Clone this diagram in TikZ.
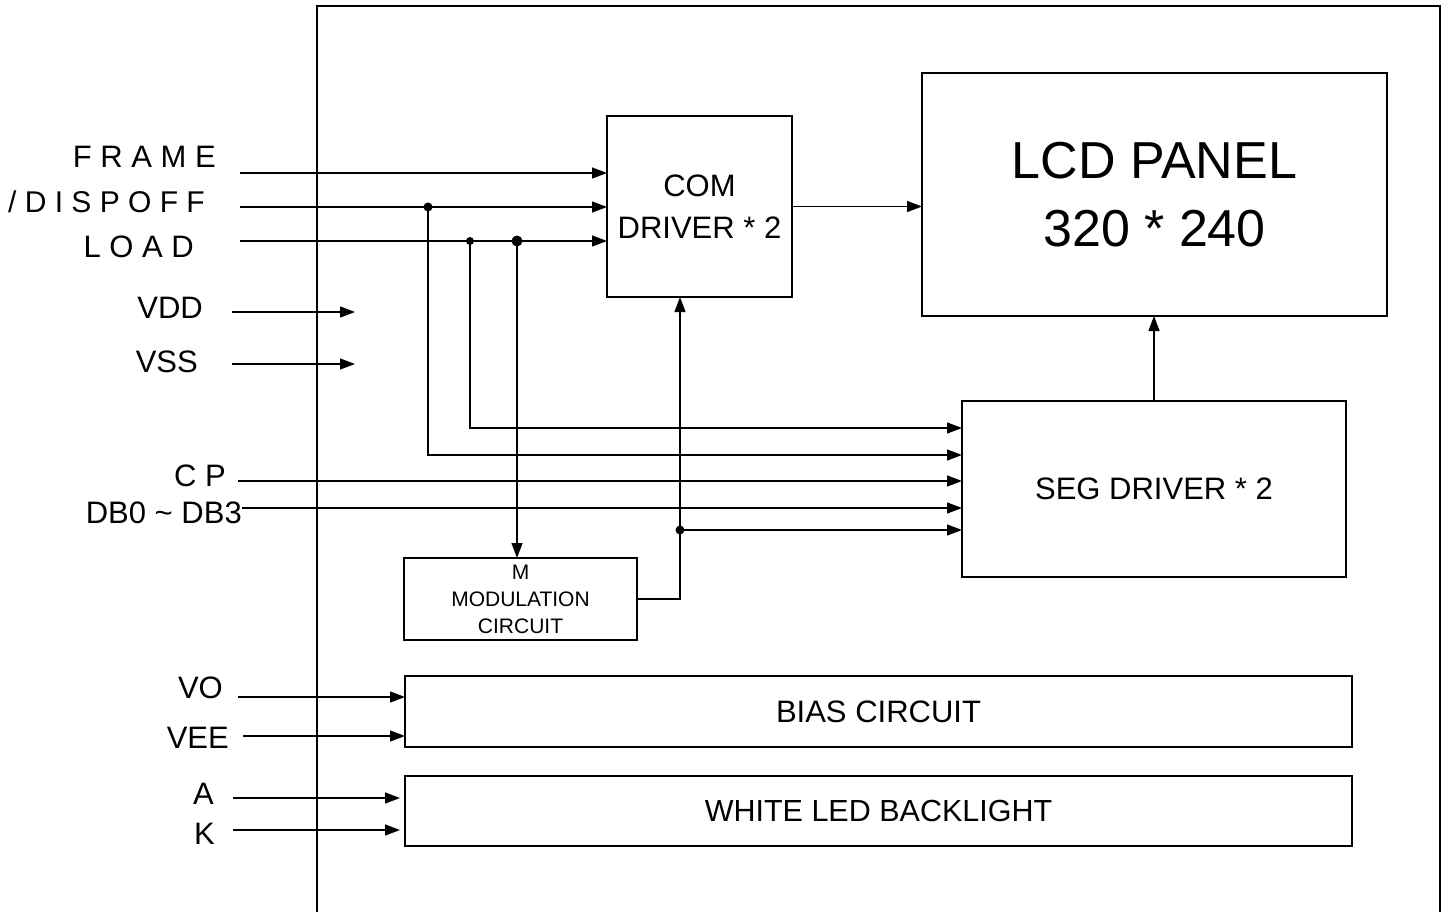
\documentclass[tikz,border=0pt]{standalone}
\usepackage{fontspec}
\setmainfont{Liberation Sans}
\usetikzlibrary{arrows.meta}
\begin{document}
\begin{tikzpicture}[x=1pt,y=-1pt,
  box/.style={draw,line width=1.5pt,anchor=north west,inner sep=0pt,outer sep=0pt,align=center,font=\fontsize{31}{42}\selectfont},
  lbl/.style={anchor=base east,inner sep=0pt,font=\fontsize{31}{37}\selectfont},
  wire/.style={line width=1.3pt},
  arr/.style={wire,-{Triangle[length=15pt,width=11pt]}},
  jdot/.style={fill=black}]
\useasboundingbox (0,0) rectangle (1448,912);
% outer frame
\draw[line width=1.6pt] (317,912) -- (317,6) -- (1440,6) -- (1440,912);
% blocks
\node[box,minimum width=185pt,minimum height=181pt] (com) at (607,116) {COM\\DRIVER * 2};
\node[box,minimum width=465pt,minimum height=243pt,font=\fontsize{52}{68}\selectfont] (lcd) at (922,73) {LCD PANEL\\320 * 240};
\node[box,minimum width=384pt,minimum height=176pt] (seg) at (962,401) {SEG DRIVER * 2};
\node[box,minimum width=233pt,minimum height=82pt,font=\fontsize{21}{27}\selectfont] (mod) at (404,558) {M\\MODULATION\\CIRCUIT};
\node[box,minimum width=947pt,minimum height=71pt] (bias) at (405,676) {BIAS CIRCUIT};
\node[box,minimum width=947pt,minimum height=70pt,font=\fontsize{30.5}{37}\selectfont] (led) at (405,776) {WHITE LED BACKLIGHT};
% labels
\node[lbl] (lframe) at (216,168) {F R A M E};
\node[lbl,font=\fontsize{30}{36}\selectfont] (ldisp) at (205,212) {/ D I S P O F F};
\node[lbl] (lload) at (194,258) {L O A D};
\node[lbl] (lvdd) at (203,318) {VDD};
\node[lbl] (lvss) at (198,372) {VSS};
\node[lbl] (lcp) at (226,486) {C P};
\node[lbl] (ldb) at (242,523) {DB0 {\char`\~} DB3};
\node[lbl] (lvo) at (223,698) {VO};
\node[lbl] (lvee) at (229,748) {VEE};
\node[lbl] (la) at (214,804) {A};
\node[lbl] (lk) at (215,844) {K};
% wire start points
\coordinate (sframe) at (240,173);
\coordinate (sdisp) at (240,207);
\coordinate (sload) at (240,241);
\coordinate (svdd) at (232,312);
\coordinate (evdd) at (355,312);
\coordinate (svss) at (232,364);
\coordinate (evss) at (355,364);
\coordinate (scp) at (238,481);
\coordinate (sdb) at (242,508);
\coordinate (svo) at (238,697);
\coordinate (svee) at (243,736);
\coordinate (sa) at (233,798);
\coordinate (sk) at (233,830);
% junctions and bends
\coordinate (jd) at (428,207);
\coordinate (jl1) at (470,241);
\coordinate (jl2) at (517,241);
\coordinate (td) at (428,455);
\coordinate (tl) at (470,428);
\coordinate (jm) at (680,530);
% wires into COM driver
\draw[arr] (sframe) -- (sframe -| com.west);
\draw[arr] (sdisp) -- (sdisp -| com.west);
\draw[arr] (sload) -- (sload -| com.west);
% power
\draw[arr] (svdd) -- (evdd);
\draw[arr] (svss) -- (evss);
% branches to SEG driver
\draw[arr] (jl1) -- (tl) -- (tl -| seg.west);
\draw[arr] (jd) -- (td) -- (td -| seg.west);
\draw[arr] (scp) -- (scp -| seg.west);
\draw[arr] (sdb) -- (sdb -| seg.west);
\draw[arr] (jm) -- (jm -| seg.west);
% M signal
\draw[arr] (jl2) -- (jl2 |- mod.north);
\draw[arr] (mod.east) -| (jm) -- (jm |- com.south);
% COM/SEG to LCD
\draw[arr] (com.east) -- (com.east -| lcd.west);
\draw[arr] (seg.north) -- (seg.north |- lcd.south);
% bias and backlight
\draw[arr] (svo) -- (svo -| bias.west);
\draw[arr] (svee) -- (svee -| bias.west);
\draw[arr,shorten >=5pt] (sa) -- (sa -| led.west);
\draw[arr,shorten >=5pt] (sk) -- (sk -| led.west);
% dots
\fill[jdot] (jd) circle (4.5pt);
\fill[jdot] (jl1) circle (4pt);
\fill[jdot] (jl2) circle (5.5pt);
\fill[jdot] (jm) circle (4.5pt);
\end{tikzpicture}
\end{document}
